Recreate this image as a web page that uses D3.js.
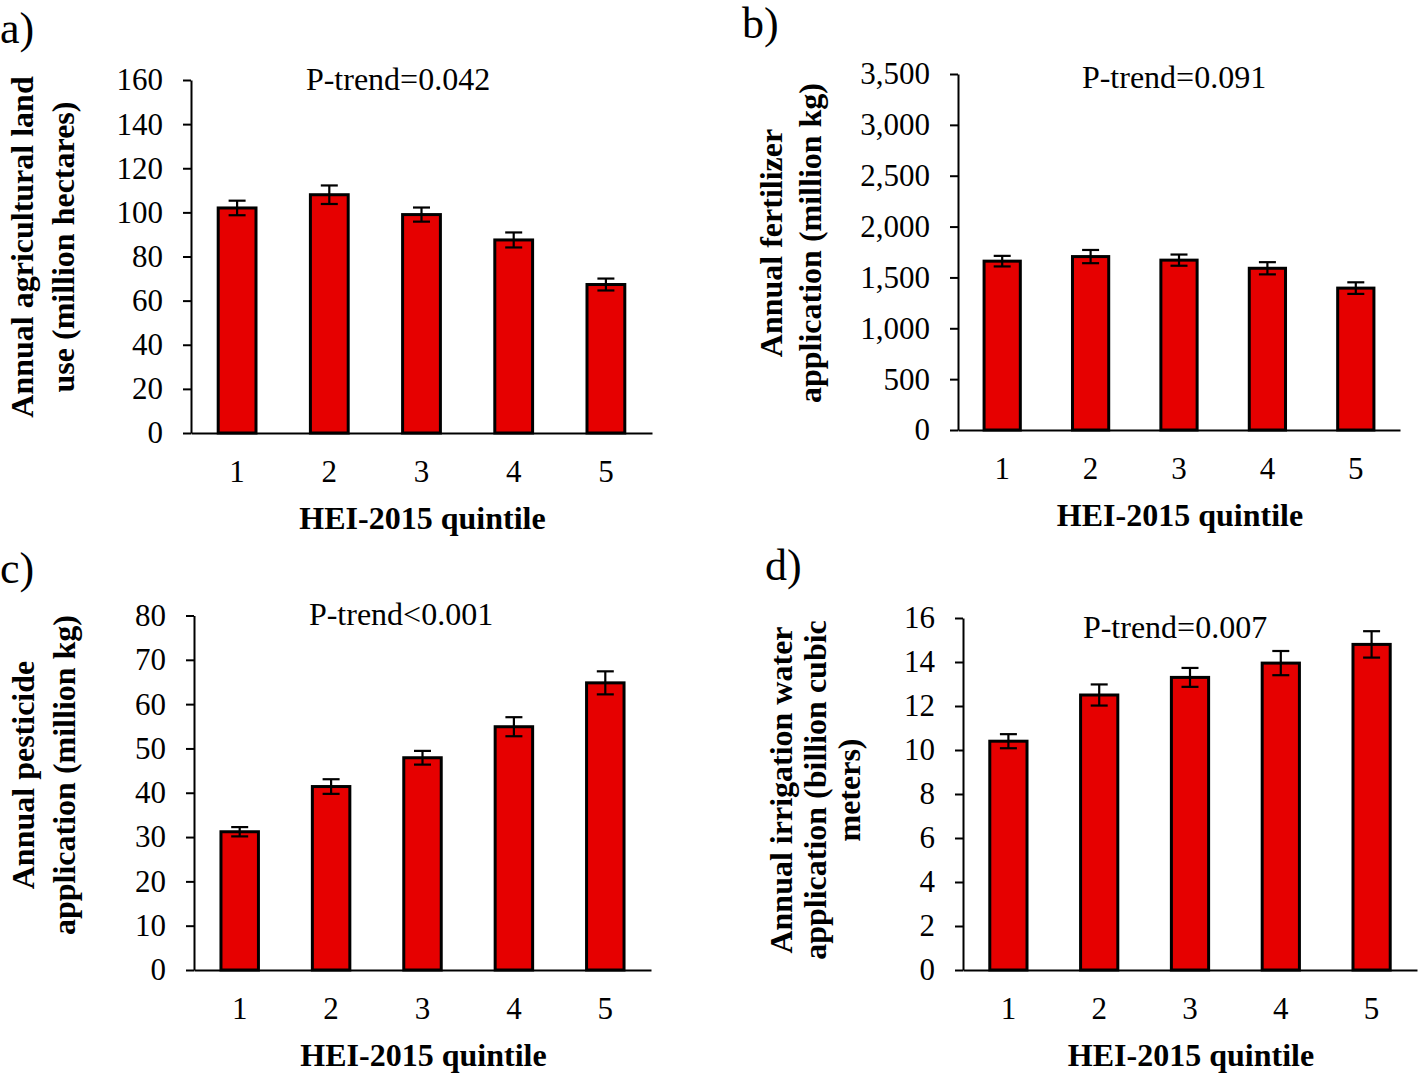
<!DOCTYPE html>
<html>
<head>
<meta charset="utf-8">
<script src="https://cdn.jsdelivr.net/npm/d3@7"></script>
<style>
  html, body { margin: 0; padding: 0; background: #fff; }
  svg { display: block; }
  text { font-family: "Liberation Serif", "Times New Roman", serif; fill: #000; }
</style>
</head>
<body>
<svg id="chart" width="1418" height="1073"></svg>
<script>
// ---- data ----
const quintiles = ["1", "2", "3", "4", "5"];

const landValues = [102, 108, 99, 87.5, 67.3];
const landErrors = [3.3, 4.2, 3.2, 3.4, 2.7];
const landTicks = [0, 20, 40, 60, 80, 100, 120, 140, 160];

const fertValues = [1660, 1705, 1670, 1590, 1395];
const fertErrors = [52, 65, 55, 60, 57];
const fertTicks = [0, 500, 1000, 1500, 2000, 2500, 3000, 3500];

const pestValues = [31.2, 41.4, 47.9, 54.9, 64.8];
const pestErrors = [1.05, 1.65, 1.55, 2.15, 2.6];
const pestTicks = [0, 10, 20, 30, 40, 50, 60, 70, 80];

const waterValues = [10.4, 12.5, 13.3, 13.95, 14.8];
const waterErrors = [0.32, 0.48, 0.43, 0.55, 0.6];
const waterTicks = [0, 2, 4, 6, 8, 10, 12, 14, 16];

const panelLabels = ["a)", "b)", "c)", "d)"];
const pTrends = ["P-trend=0.042", "P-trend=0.091", "P-trend<0.001", "P-trend=0.007"];
const yTitles = [
  ["Annual agricultural land", "use (million hectares)"],
  ["Annual fertilizer", "application (million kg)"],
  ["Annual pesticide", "application (million kg)"],
  ["Annual irrigation water", "application (billion cubic", "meters)"]
];
const xTitle = "HEI-2015 quintile";

// ---- layout (positions only) ----
const panels = [
  { values: landValues, errors: landErrors, ticks: landTicks, fmt: d3.format("d"),
    x0: 191, x1: 652, y0: 433, y1: 80,
    label: { x: 0, y: 43 }, ptrend: { x: 398, y: 90 },
    yTitle: { xs: [33, 74], y: 247 } },
  { values: fertValues, errors: fertErrors, ticks: fertTicks, fmt: d3.format(","),
    x0: 958, x1: 1400, y0: 430, y1: 74,
    label: { x: 742, y: 38 }, ptrend: { x: 1174, y: 88 },
    yTitle: { xs: [782, 821], y: 243 } },
  { values: pestValues, errors: pestErrors, ticks: pestTicks, fmt: d3.format("d"),
    x0: 194, x1: 651, y0: 970, y1: 615.5,
    label: { x: 0, y: 583 }, ptrend: { x: 401, y: 625 },
    yTitle: { xs: [34, 75], y: 775 } },
  { values: waterValues, errors: waterErrors, ticks: waterTicks, fmt: d3.format("d"),
    x0: 963, x1: 1417, y0: 970, y1: 618,
    label: { x: 765, y: 580 }, ptrend: { x: 1175, y: 638 },
    yTitle: { xs: [792, 826, 860], y: 790 } }
];

const svg = d3.select("#chart");
const barColor = "#e60000";

panels.forEach((p, i) => {
  const g = svg.append("g");
  const yMax = p.ticks[p.ticks.length - 1];
  const y = d3.scaleLinear().domain([0, yMax]).range([p.y0, p.y1]);
  const x = d3.scaleBand().domain(quintiles).range([p.x0, p.x1])
    .paddingInner(0.59).paddingOuter(0.295);

  // bars
  g.selectAll("rect.bar").data(p.values).enter().append("rect")
    .attr("class", "bar")
    .attr("x", (d, j) => x(quintiles[j]))
    .attr("width", x.bandwidth())
    .attr("y", d => y(d))
    .attr("height", d => y(0) - y(d))
    .attr("fill", barColor)
    .attr("stroke", "#000")
    .attr("stroke-width", 3);

  // error bars
  const capW = 17;
  const eg = g.selectAll("g.err").data(p.values).enter().append("g").attr("class", "err")
    .attr("stroke", "#000").attr("stroke-width", 2.2);
  eg.append("line")
    .attr("x1", (d, j) => x(quintiles[j]) + x.bandwidth() / 2)
    .attr("x2", (d, j) => x(quintiles[j]) + x.bandwidth() / 2)
    .attr("y1", (d, j) => y(d - p.errors[j]))
    .attr("y2", (d, j) => y(d + p.errors[j]));
  eg.append("line")
    .attr("x1", (d, j) => x(quintiles[j]) + x.bandwidth() / 2 - capW / 2)
    .attr("x2", (d, j) => x(quintiles[j]) + x.bandwidth() / 2 + capW / 2)
    .attr("y1", (d, j) => y(d + p.errors[j]))
    .attr("y2", (d, j) => y(d + p.errors[j]));
  eg.append("line")
    .attr("x1", (d, j) => x(quintiles[j]) + x.bandwidth() / 2 - capW / 2)
    .attr("x2", (d, j) => x(quintiles[j]) + x.bandwidth() / 2 + capW / 2)
    .attr("y1", (d, j) => y(d - p.errors[j]))
    .attr("y2", (d, j) => y(d - p.errors[j]));

  // y axis
  const ya = g.append("g").attr("transform", `translate(${p.x0},0)`)
    .call(d3.axisLeft(y).tickValues(p.ticks).tickFormat(p.fmt).tickSize(8).tickPadding(20).tickSizeOuter(0));
  ya.select(".domain").attr("stroke-width", 2);
  ya.selectAll(".tick line").attr("stroke-width", 2);
  ya.selectAll("text").attr("font-size", 31).attr("font-family", "Liberation Serif");

  // x axis
  const xa = g.append("g").attr("transform", `translate(0,${p.y0})`)
    .call(d3.axisBottom(x).tickSize(0).tickPadding(27).tickSizeOuter(0));
  xa.select(".domain").attr("stroke-width", 2);
  xa.selectAll("text").attr("font-size", 31).attr("font-family", "Liberation Serif");

  // x title
  g.append("text")
    .attr("x", (p.x0 + p.x1) / 2 + 1)
    .attr("y", p.y0 + 96)
    .attr("text-anchor", "middle")
    .attr("font-weight", "bold")
    .attr("font-size", 32)
    .text(xTitle);

  // y title
  yTitles[i].forEach((line, k) => {
    g.append("text")
      .attr("transform", `translate(${p.yTitle.xs[k]},${p.yTitle.y}) rotate(-90)`)
      .attr("text-anchor", "middle")
      .attr("font-weight", "bold")
      .attr("font-size", 32)
      .text(line);
  });

  // p-trend
  g.append("text")
    .attr("x", p.ptrend.x).attr("y", p.ptrend.y)
    .attr("text-anchor", "middle")
    .attr("font-size", 32)
    .text(pTrends[i]);

  // panel label
  g.append("text")
    .attr("x", p.label.x).attr("y", p.label.y)
    .attr("font-size", 44)
    .text(panelLabels[i]);
});
</script>
</body>
</html>
